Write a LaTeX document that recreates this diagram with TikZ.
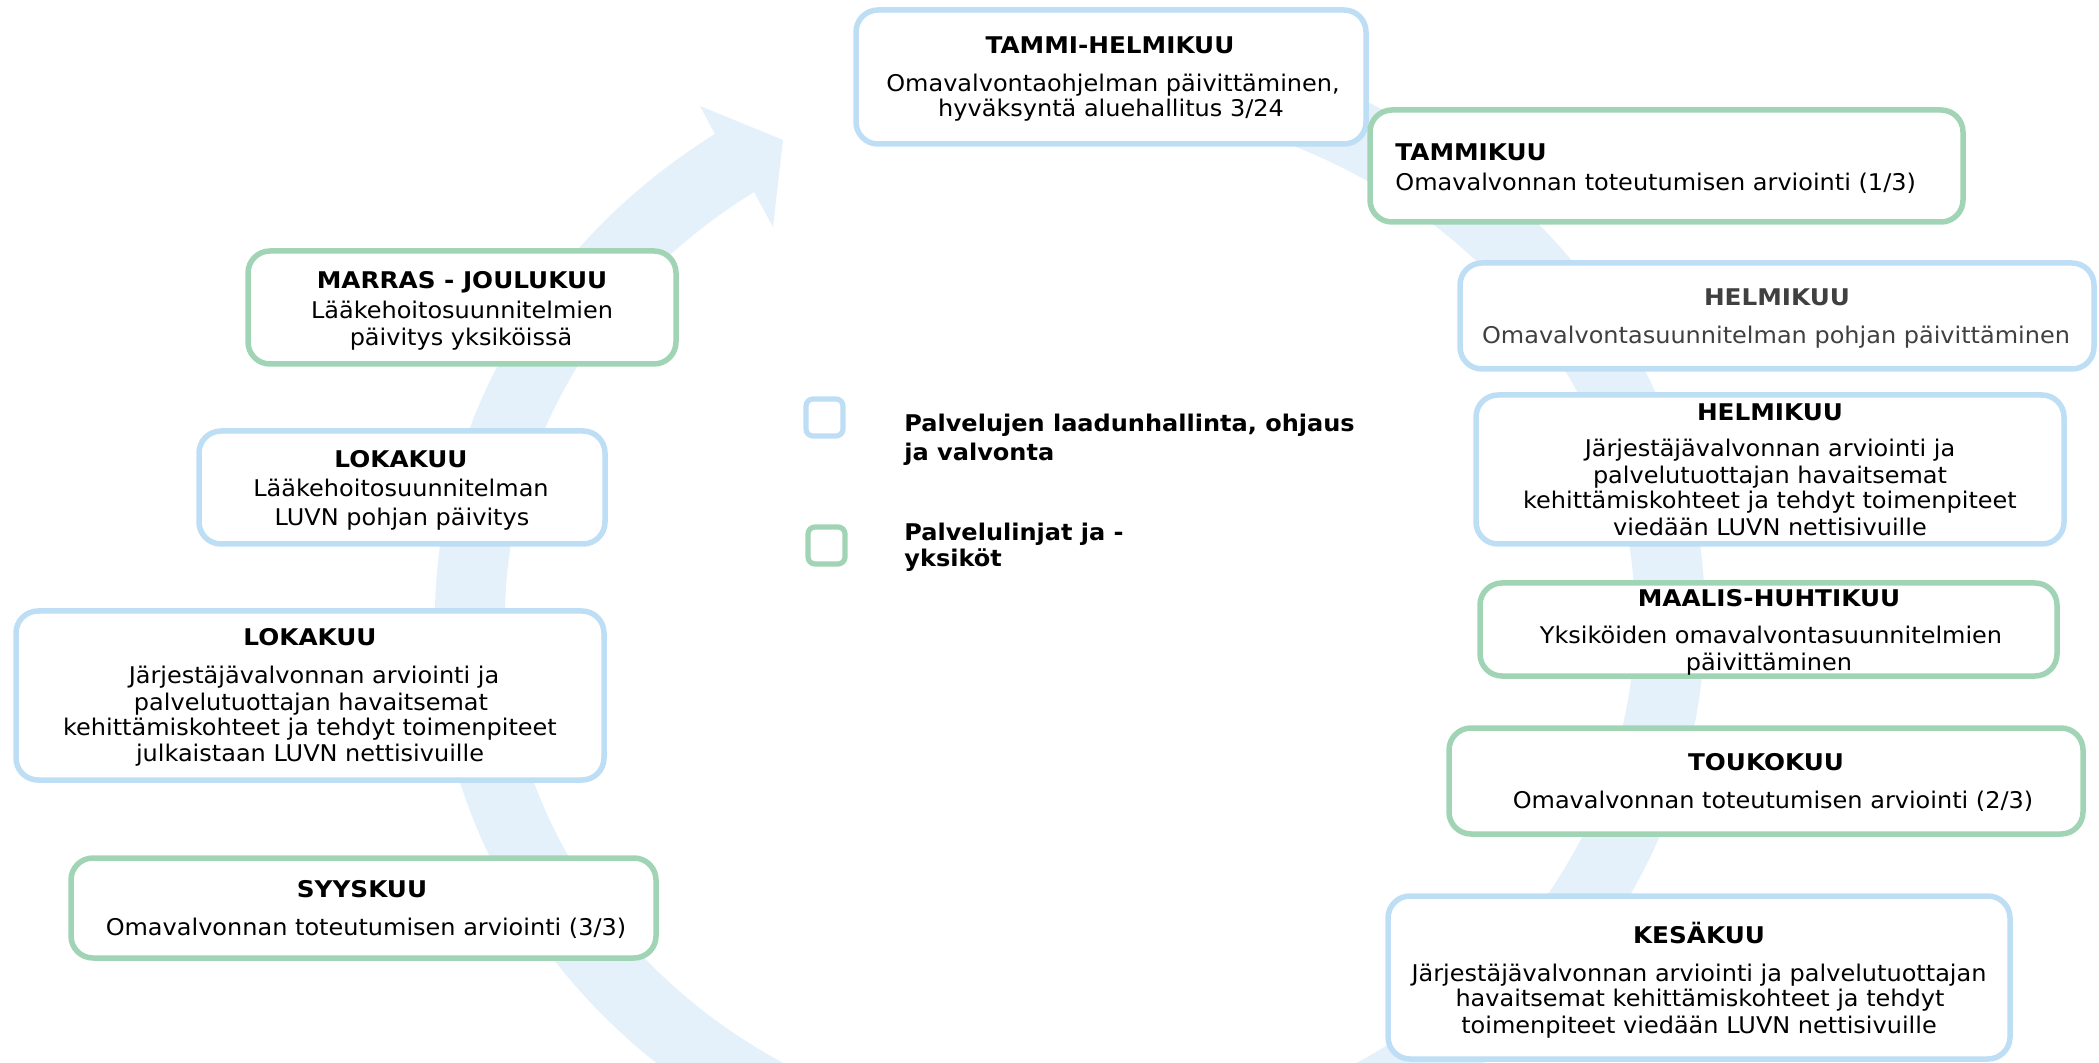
\documentclass[tikz,border=0pt]{standalone}
\usepackage{fontspec}
\setmainfont{DejaVu Sans}[FakeStretch=1.043]
\newfontfamily\ttlfamily{DejaVu Sans Bold}[FakeStretch=1.075]
\newfontfamily\legfamily{DejaVu Sans Bold}[FakeStretch=1.044]
\usetikzlibrary{calc}
\definecolor{boxblue}{HTML}{BDDEF5}
\definecolor{boxgreen}{HTML}{A0D4B5}
\definecolor{ringblue}{HTML}{E4F1FA}
\definecolor{greytext}{HTML}{404040}
\tikzset{
  boxbase/.style={line width=2.75pt, rounded corners=11pt, fill=white, inner sep=0pt},
  bluebox/.style={boxbase, draw=boxblue},
  greenbox/.style={boxbase, draw=boxgreen},
  legbase/.style={line width=2.6pt, rounded corners=3.5pt, fill=white, inner sep=0pt, minimum width=18.5pt, minimum height=18.5pt},
  ttl/.style={font=\fontsize{11.5pt}{13pt}\selectfont\ttlfamily, inner sep=0pt, anchor=base},
  legtxt/.style={font=\fontsize{11.5pt}{13pt}\selectfont\legfamily, inner sep=0pt, anchor=base west},
  txt/.style={font=\fontsize{11.5pt}{13pt}\selectfont, inner sep=0pt, anchor=base},
}
\begin{document}
\begin{tikzpicture}[x=0.5pt,y=-0.5pt]
\useasboundingbox (0,0) rectangle (2099,1063);
% background circular arrow
\fill[ringblue] ($(1070,619)+(-80:635 and 585)$) arc[start angle=-80,end angle=236,x radius=635,y radius=585]
  -- (700,106) -- (783,140) -- (773,227)
  -- ($(1070,619)+(236:565 and 515)$) arc[start angle=236,end angle=-80,x radius=565,y radius=515] -- cycle;

% boxes
\node[bluebox, minimum width=255pt, minimum height=67pt] (th) at (1111,77) {};
\node[greenbox, minimum width=296.5pt, minimum height=56pt] (tk) at (1666.5,166) {};
\node[bluebox, minimum width=317pt, minimum height=53pt] (hg) at (1777,316) {};
\node[bluebox, minimum width=294pt, minimum height=74.5pt] (hb) at (1770,469.5) {};
\node[greenbox, minimum width=288.5pt, minimum height=46.5pt] (mh) at (1768.5,629.5) {};
\node[greenbox, minimum width=317pt, minimum height=53pt] (to) at (1766,781) {};
\node[bluebox, minimum width=311pt, minimum height=81.5pt] (ke) at (1699,977.5) {};
\node[greenbox, minimum width=214pt, minimum height=56.5pt] (mj) at (462,307.5) {};
\node[bluebox, minimum width=203pt, minimum height=56.5pt] (ls) at (402,487.5) {};
\node[bluebox, minimum width=294pt, minimum height=84.5pt] (lb) at (310,695.5) {};
\node[greenbox, minimum width=292.5pt, minimum height=50pt] (sy) at (363.5,908) {};

% texts
\node[ttl] (th-t) at (1110,53.5) {TAMMI-HELMIKUU};
\node[txt] (th-1) at (1113,91.5) {Omavalvontaohjelman päivittäminen,};
\node[txt] (th-2) at (1111,116.5) {hyväksyntä aluehallitus 3/24};

\node[ttl, anchor=base west] (tk-t) at (1395,160.5) {TAMMIKUU};
\node[txt, anchor=base west] (tk-1) at (1395,190.5) {Omavalvonnan toteutumisen arviointi (1/3)};

\node[ttl, text=greytext] (hg-t) at (1777,305.5) {HELMIKUU};
\node[txt, text=greytext] (hg-1) at (1776,343.5) {Omavalvontasuunnitelman pohjan päivittäminen};

\node[ttl] (hb-t) at (1770,420.5) {HELMIKUU};
\node[txt] (hb-1) at (1770,456.5) {Järjestäjävalvonnan arviointi ja};
\node[txt] (hb-2) at (1770,483.5) {palvelutuottajan havaitsemat};
\node[txt] (hb-3) at (1770,508.5) {kehittämiskohteet ja tehdyt toimenpiteet};
\node[txt] (hb-4) at (1770,535.5) {viedään LUVN nettisivuille};

\node[ttl] (mh-t) at (1769,606.5) {MAALIS-HUHTIKUU};
\node[txt] (mh-1) at (1771,643.5) {Yksiköiden omavalvontasuunnitelmien};
\node[txt] (mh-2) at (1769,670.5) {päivittäminen};

\node[ttl] (to-t) at (1766,770.5) {TOUKOKUU};
\node[txt] (to-1) at (1773,808.5) {Omavalvonnan toteutumisen arviointi (2/3)};

\node[ttl] (ke-t) at (1699,943.5) {KESÄKUU};
\node[txt] (ke-1) at (1699,981.5) {Järjestäjävalvonnan arviointi ja palvelutuottajan};
\node[txt] (ke-2) at (1700,1006.5) {havaitsemat kehittämiskohteet ja tehdyt};
\node[txt] (ke-3) at (1699,1033.5) {toimenpiteet viedään LUVN nettisivuille};

\node[ttl] (mj-t) at (462,288.5) {MARRAS - JOULUKUU};
\node[txt] (mj-1) at (462,318.5) {Lääkehoitosuunnitelmien};
\node[txt] (mj-2) at (461,345.5) {päivitys yksiköissä};

\node[ttl] (ls-t) at (401,467.5) {LOKAKUU};
\node[txt] (ls-1) at (401,496.5) {Lääkehoitosuunnitelman};
\node[txt] (ls-2) at (402,525.5) {LUVN pohjan päivitys};

\node[ttl] (lb-t) at (310,645.5) {LOKAKUU};
\node[txt] (lb-1) at (314,683.5) {Järjestäjävalvonnan arviointi ja};
\node[txt] (lb-2) at (311,710.5) {palvelutuottajan havaitsemat};
\node[txt] (lb-3) at (310,735.5) {kehittämiskohteet ja tehdyt toimenpiteet};
\node[txt] (lb-4) at (310,761.5) {julkaistaan LUVN nettisivuille};

\node[ttl] (sy-t) at (362,897.5) {SYYSKUU};
\node[txt] (sy-1) at (366,935.5) {Omavalvonnan toteutumisen arviointi (3/3)};

% legend
\node[legbase, draw=boxblue] (leg1) at (824.5,417.5) {};
\node[legbase, draw=boxgreen] (leg2) at (826.5,545.5) {};
\node[legtxt] (leg1-a) at (904,431.5) {Palvelujen laadunhallinta, ohjaus};
\node[legtxt] (leg1-b) at (904,460.5) {ja valvonta};
\node[legtxt] (leg2-a) at (904,540.5) {Palvelulinjat ja -};
\node[legtxt] (leg2-b) at (904,566.5) {yksiköt};
\end{tikzpicture}
\end{document}
